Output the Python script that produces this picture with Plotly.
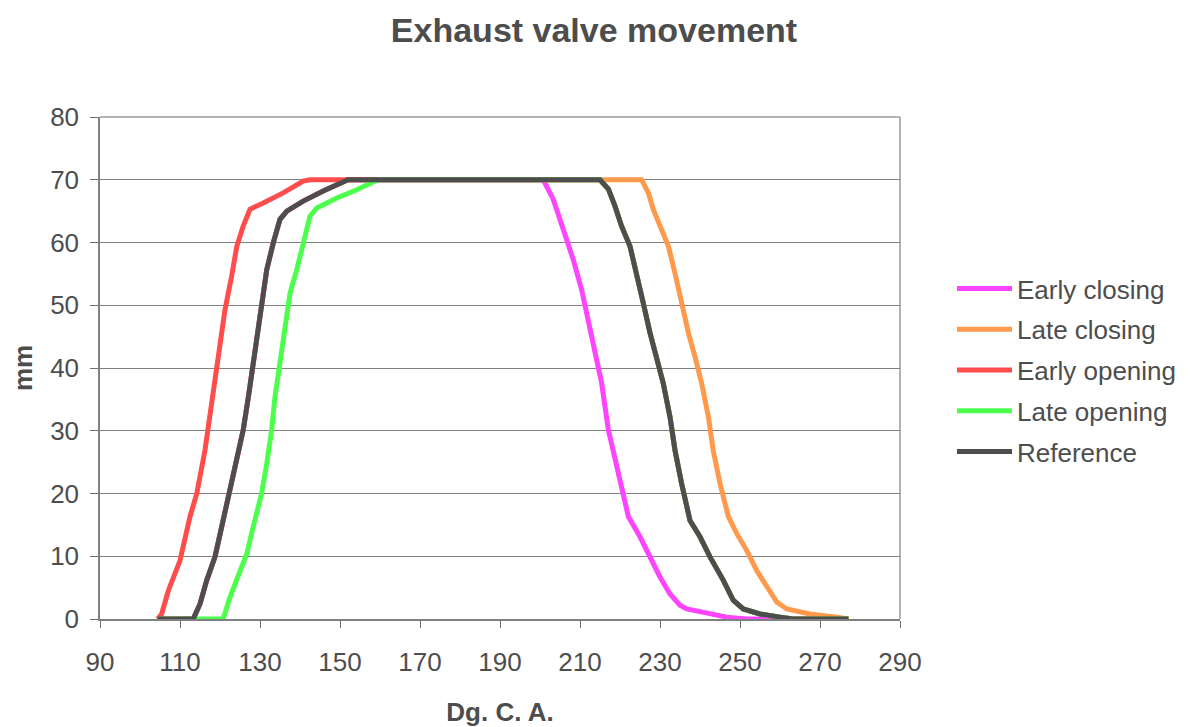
import plotly.graph_objects as go

# ---- data (degrees crank angle, valve lift in mm) ----
ref_open_x = [104.4, 113.3, 115.0, 116.7, 118.75, 120.8, 122.5, 124.2, 125.8, 127.1, 128.3, 130.4, 131.7,
              133.3, 135.0, 136.7, 140.8, 145.8, 150.8, 152.0]
ref_open_y = [0, 0, 2.4, 6.2, 9.9, 15.7, 20, 24.8, 30.1, 35.4, 40.8, 49.3, 55.7,
              59.9, 63.7, 65.0, 66.6, 68.2, 69.8, 70]
ref_close_x = [215.0, 217.1, 218.75, 220.4, 222.5, 224.2, 225.8, 227.5, 229.2, 230.8, 232.5, 233.75, 235.4,
               237.5, 240.0, 242.5, 245.8, 248.3, 250.8, 255.0, 260.0, 263.3, 277.1]
ref_close_y = [70, 68.5, 65.8, 62.6, 59.4, 55.1, 50.4, 45.6, 41.3, 37.6, 32.2, 26.9, 21.6,
               15.7, 13.1, 9.9, 6.2, 3.0, 1.6, 0.8, 0.3, 0, 0]

early_open_x = [104.4, 105.4, 107.1, 110.0, 112.5, 114.2, 116.25, 117.5, 118.75, 120.0, 121.25, 122.9,
                124.2, 125.8, 127.5, 130.8, 135.8, 140.8, 142.5]
early_open_y = [0, 0.8, 4.55, 9.3, 16.3, 20.0, 26.9, 32.2, 37.6, 42.9, 49.3, 54.6,
                59.4, 62.6, 65.3, 66.3, 67.9, 69.8, 70]
late_open_x = [104.4, 120.8, 122.5, 124.6, 126.7, 128.3, 130.4, 131.7, 132.9, 133.75, 135.0, 135.8,
               137.5, 139.2, 140.8, 142.5, 144.2, 149.2, 154.2, 158.3, 159.5]
late_open_y = [0, 0, 3.5, 6.7, 10.4, 14.7, 20, 24.8, 30.1, 35.4, 40.8, 43.4,
               51.9, 55.7, 59.9, 64.2, 65.5, 67.1, 68.4, 69.8, 70]

early_close_x = [200.8, 203.3, 205.8, 208.3, 210.4, 212.5, 214.2, 215.4, 217.1, 218.75, 220.4, 222.1,
                 225.0, 227.5, 230.0, 232.5, 235.0, 236.7, 242.5, 246.7, 251.7, 277.1]
early_close_y = [70, 66.9, 62.1, 57.3, 52.5, 46.6, 41.3, 37.6, 30.1, 25.3, 20.5, 16.3,
                 13.1, 9.9, 6.7, 4.0, 2.2, 1.6, 0.8, 0.3, 0, 0]
late_close_x = [225.4, 227.1, 228.3, 230.0, 232.1, 233.75, 235.4, 237.1, 238.75, 240.4, 242.1, 243.3,
                245.0, 247.1, 249.2, 251.7, 254.2, 256.7, 259.2, 261.7, 267.5, 274.2, 277.1]
late_close_y = [70, 67.9, 65.3, 62.6, 59.4, 55.1, 50.4, 45.6, 41.8, 37.6, 32.2, 26.9,
                21.6, 16.3, 13.6, 10.9, 7.7, 5.1, 2.7, 1.6, 0.8, 0.3, 0]

series_names = ["Early closing", "Late closing", "Early opening", "Late opening", "Reference"]
series_colors = ["#FF44FF", "#FF9A4D", "#FF4D4D", "#4DFF4D", "#4D4D4D"]

x_ticks = list(range(90, 291, 20))
y_ticks = list(range(0, 81, 10))

# each variant: (opening part, closing part)
series_data = [
    (ref_open_x + early_close_x, ref_open_y + early_close_y),
    (ref_open_x + late_close_x, ref_open_y + late_close_y),
    (early_open_x + ref_close_x, early_open_y + ref_close_y),
    (late_open_x + ref_close_x, late_open_y + ref_close_y),
    (ref_open_x + ref_close_x, ref_open_y + ref_close_y),
]

FONT = "Liberation Sans, Arial, sans-serif"
TXT = "#4D4D4D"

W, H = 1185, 719  # page body has an 8px margin

fig = go.Figure()
for i, (name, color, (xs, ys)) in enumerate(zip(series_names, series_colors, series_data)):
    fig.add_trace(go.Scatter(x=xs, y=ys, mode="lines", name=name, legendgroup=f"g{i}",
                             line=dict(color=color, width=5)))

fig.update_layout(
    width=W, height=H,
    paper_bgcolor="white", plot_bgcolor="white",
    margin=dict(l=92, r=293, t=109, b=108),
    font=dict(family=FONT, color=TXT, size=26),
    title=dict(text="<b>Exhaust valve movement</b>", x=586 / W, xanchor="center", xref="container",
               y=1 - 22 / H, yanchor="middle", yref="container",
               font=dict(size=34, color=TXT, family=FONT)),
    legend=dict(x=1.065, xanchor="left", y=0.495, yanchor="middle", font=dict(size=26, color=TXT),
                tracegroupgap=4, itemwidth=55, bgcolor="rgba(0,0,0,0)"),
    shapes=[
        dict(type="line", xref="paper", yref="paper", x0=0, x1=1, y0=1, y1=1,
             line=dict(color="#B3B3B3", width=2), layer="below"),
        dict(type="line", xref="paper", yref="paper", x0=1, x1=1, y0=0, y1=1,
             line=dict(color="#B3B3B3", width=2), layer="below"),
    ],
)
fig.update_xaxes(range=[90, 290], tickvals=x_ticks, ticks="outside", ticklen=7, tickcolor="#707070",
                 tickwidth=1, showline=True, linecolor="#808080", linewidth=1.5, showgrid=False,
                 zeroline=False, tickfont=dict(size=26, color=TXT), ticklabelstandoff=12,
                 automargin=False,
                 title=dict(text="<b>Dg. C. A.</b>", font=dict(size=26, color=TXT), standoff=28))
fig.update_yaxes(range=[0, 80], tickvals=y_ticks, ticks="outside", ticklen=8, tickcolor="#707070",
                 tickwidth=1, showline=True, linecolor="#808080", linewidth=1.5, showgrid=True,
                 gridcolor="#808080", gridwidth=1.2, zeroline=False, automargin=False,
                 tickfont=dict(size=26, color=TXT), ticklabelstandoff=6,
                 title=dict(text="<b>mm</b>", font=dict(size=26, color=TXT), standoff=37))

fig.write_html("out.html")
